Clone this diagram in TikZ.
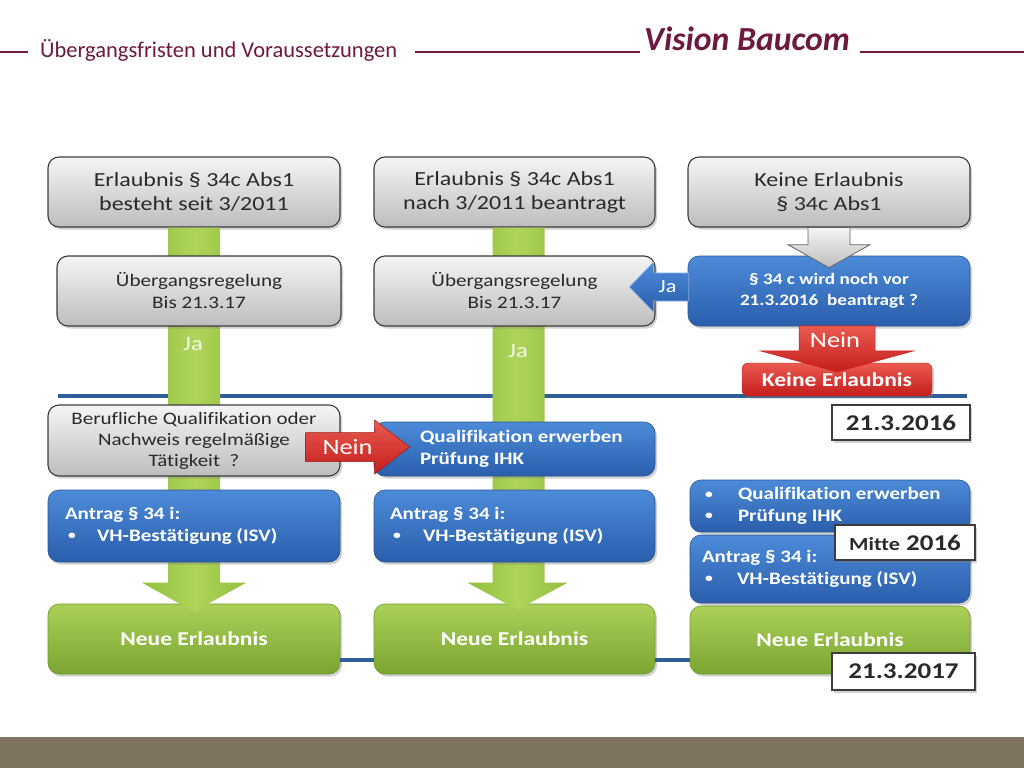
\documentclass[tikz,border=0pt]{standalone}
\usepackage{fontspec}
\setmainfont{Carlito}
\newfontfamily\diag{Carlito}[FakeStretch=1.2,Ligatures=CommonOff]
\newcommand{\smbul}{\raisebox{1.6pt}{\fontsize{13}{13}\selectfont\textbullet}}
\usetikzlibrary{shadows,calc}
\definecolor{maroon}{HTML}{6E1A40}
\definecolor{lineblue}{HTML}{2F5E98}
\definecolor{gtop}{HTML}{F5F5F5}
\definecolor{gbot}{HTML}{BDBDBD}
\definecolor{gborder}{HTML}{3C3C3C}
\definecolor{gtext}{HTML}{2A2A2A}
\definecolor{btop}{HTML}{4C8BD8}
\definecolor{bbot}{HTML}{2A5EAC}
\definecolor{bborder}{HTML}{2A5590}
\definecolor{grtop}{HTML}{AAD058}
\definecolor{grbot}{HTML}{7BA531}
\definecolor{grborder}{HTML}{6F9A2C}
\definecolor{stemg}{HTML}{93BE3E}
\definecolor{stemlight}{HTML}{AED55A}
\definecolor{rtop}{HTML}{EA5A50}
\definecolor{rbot}{HTML}{C41E1C}
\definecolor{barcol}{HTML}{7E735E}
\definecolor{jatext}{HTML}{F2F7E6}
\begin{document}
\begin{tikzpicture}[x=1pt,y=-1pt,
  shadowed/.style={drop shadow={shadow xshift=2pt,shadow yshift=-2.5pt,opacity=0.35}},
  basebox/.style={rounded corners=11pt, inner xsep=8pt, inner ysep=0pt, align=center, shadowed},
  graybox/.style={basebox, top color=gtop, bottom color=gbot, draw=gborder, line width=1.1pt, text=gtext},
  bluebox/.style={basebox, top color=btop, bottom color=bbot, draw=bborder, line width=0.6pt, text=white, font=\diag\bfseries\fontsize{17.5}{21.5}\selectfont},
  greenbox/.style={basebox, top color=grtop, bottom color=grbot, draw=grborder, line width=0.6pt, text=white, font=\diag\bfseries\fontsize{19.6}{23}\selectfont},
  redbox/.style={basebox, rounded corners=6pt, top color=rtop, bottom color=rbot, draw=rbot, text=white, font=\diag\bfseries\fontsize{19.6}{23}\selectfont},
  datebox/.style={fill=white, draw=gborder, line width=1.1pt, inner sep=0pt, shadowed, text=gtext, font=\diag\bfseries\fontsize{22.5}{26}\selectfont},
  hdrline/.style={draw=maroon, line width=1.8pt},
  timeline/.style={draw=lineblue, line width=4pt},
  arrowtext/.style={text=white, inner sep=0pt, font=\diag\fontsize{22}{26}\selectfont},
  jalabel/.style={text=jatext, inner sep=0pt, font=\diag\fontsize{20.5}{24}\selectfont},
]
\path[use as bounding box] (0,0) rectangle (1024,768);
\fill[white] (0,0) rectangle (1024,768);

% header
\coordinate (h0) at (0,52); \coordinate (h1) at (28,52);
\coordinate (h2) at (415,52); \coordinate (h3) at (640,52);
\coordinate (h4) at (860,52); \coordinate (h5) at (1024,52);
\draw[hdrline] (h0) -- (h1);
\draw[hdrline] (h2) -- (h3);
\draw[hdrline] (h4) -- (h5);
\node[anchor=base west, inner sep=0pt, text=maroon, font=\fontsize{22.5}{27}\selectfont] (title) at (40,57) {Übergangsfristen und Voraussetzungen};
\node[anchor=base west, inner sep=0pt, text=maroon, font=\bfseries\itshape\fontsize{33.7}{40}\selectfont] (brand) at (644,50) {Vision Baucom};

% footer bar
\fill[barcol] (0,737) rectangle (1024,768);

% upper time line
\coordinate (tl0) at (58,396); \coordinate (tl1) at (967,396);
\draw[timeline] (tl0) -- (tl1);

% top boxes
\node[graybox, minimum width=292pt, minimum height=70pt, font=\diag\fontsize{20}{24}\selectfont] (g1) at (194,192) {Erlaubnis § 34c Abs1\\besteht seit 3/2011};
\node[graybox, minimum width=281pt, minimum height=70pt, font=\diag\fontsize{20}{24}\selectfont] (g2) at (514.5,192) {Erlaubnis § 34c Abs1\\nach 3/2011 beantragt};
\node[graybox, minimum width=282pt, minimum height=70pt, font=\diag\fontsize{20}{24}\selectfont] (g3) at (829,192) {Keine Erlaubnis\\§ 34c Abs1};

% result boxes
\node[greenbox, minimum width=292pt, minimum height=70pt] (n1) at (194,639) {Neue Erlaubnis};
\node[greenbox, minimum width=281pt, minimum height=70pt] (n2) at (514.5,639) {Neue Erlaubnis};
\node[greenbox, minimum width=280pt, minimum height=68pt] (n3) at (830,640) {Neue Erlaubnis};

% lower time line
\draw[timeline] ($(n1.east)+(0,21)$) -- ($(n2.west)+(0,21)$);
\draw[timeline] ($(n2.east)+(0,21)$) -- ($(n3.west)+(0,20)$);

% green stems with arrow heads
\shade[left color=stemg, right color=stemg, middle color=stemlight]
  ($(g1.south)+(-26,0)$) -- ($(g1.south)+(26,0)$) -- ($(n1.north)+(26,-21)$) -- ($(n1.north)+(52,-21)$)
  -- ($(n1.north)+(0,8)$) -- ($(n1.north)+(-52,-21)$) -- ($(n1.north)+(-26,-21)$) -- cycle;
\shade[left color=stemg, right color=stemg, middle color=stemlight]
  ($(g2.south)+(-22,0)$) -- ($(g2.south)+(30,0)$) -- ($(n2.north)+(30,-21)$) -- ($(n2.north)+(53,-21)$)
  -- ($(n2.north)+(3,6)$) -- ($(n2.north)+(-47,-21)$) -- ($(n2.north)+(-22,-21)$) -- cycle;

% column 1 / 2 boxes
\node[graybox, minimum width=284pt, minimum height=70pt, font=\diag\fontsize{17.6}{22}\selectfont] (u1) at (199,291) {Übergangsregelung\\Bis 21.3.17};
\node[graybox, minimum width=281pt, minimum height=70pt, font=\diag\fontsize{17.6}{22}\selectfont] (u2) at (514.5,291) {Übergangsregelung\\Bis 21.3.17};
\node[jalabel] (ja1) at ($(g1.south)+(-1,116)$) {Ja};
\node[jalabel] (ja2) at ($(g2.south)+(3.5,123)$) {Ja};

\node[graybox, minimum width=292pt, minimum height=71pt, font=\diag\fontsize{17.5}{21}\selectfont] (qb1) at (194,440.5) {Berufliche Qualifikation oder\\Nachweis regelmäßige\\Tätigkeit\ \ ?};
\node[bluebox, minimum width=281pt, minimum height=54pt, text width=265pt, align=flush left] (q2) at (514.5,449) {\hspace*{38pt}Qualifikation erwerben\\\hspace*{38pt}Prüfung IHK};
\node[bluebox, minimum width=292pt, minimum height=72pt, text width=276pt, align=flush left] (a1) at (194,526) {\hspace*{9pt}Antrag § 34 i:\\\hspace*{12pt}\makebox[29pt][l]{\smbul}VH-Bestätigung (ISV)};
\node[bluebox, minimum width=281pt, minimum height=72pt, text width=265pt, align=flush left] (a2) at (514.5,526) {\hspace*{8pt}Antrag § 34 i:\\\hspace*{11pt}\makebox[30pt][l]{\smbul}VH-Bestätigung (ISV)};

% Nein arrow col1 -> col2
\shadedraw[top color=rtop, bottom color=rbot, draw=rbot!80!black, line width=0.5pt]
  ($(qb1.east)+(-35,-8)$) -- ($(q2.west)+(1,-16.5)$) -- ($(q2.west)+(1,-29)$) -- ($(q2.west)+(36,-2)$)
  -- ($(q2.west)+(1,25)$) -- ($(q2.west)+(1,12.5)$) -- ($(qb1.east)+(-35,21)$) -- cycle;
\node[arrowtext] (nein1) at ($(qb1.east)+(7,6.5)$) {Nein};

% column 3
\node[bluebox, minimum width=282pt, minimum height=70pt, font=\diag\bfseries\fontsize{16}{21}\selectfont] (q3) at (829,291) {§ 34 c wird noch vor\\21.3.2016\ \ beantragt ?};
\shadedraw[top color=gtop, bottom color=gbot, draw=gborder!80, line width=0.8pt]
  ($(g3.south)+(-21,0)$) -- ($(g3.south)+(21,0)$) -- ($(q3.north)+(21,-11)$) -- ($(q3.north)+(41,-11)$)
  -- ($(q3.north)+(0,12)$) -- ($(q3.north)+(-41,-11)$) -- ($(q3.north)+(-21,-11)$) -- cycle;
\node[redbox, minimum width=190pt, minimum height=33pt] (k3) at (837,379.5) {Keine Erlaubnis};
\shadedraw[top color=rtop, bottom color=rbot, draw=rbot, line width=0.5pt]
  ($(k3.north)+(-38,-37)$) -- ($(k3.north)+(38,-37)$) -- ($(k3.north)+(38,-12)$) -- ($(k3.north)+(77,-12)$)
  -- ($(k3.north)+(0,9)$) -- ($(k3.north)+(-77,-12)$) -- ($(k3.north)+(-38,-12)$) -- cycle;
\node[arrowtext] (nein3) at ($(k3.north)+(-2,-23)$) {Nein};

% Ja arrow col3 -> col2
\shadedraw[top color=btop, bottom color=bbot, draw=btop!70!white, line width=0.6pt]
  ($(q3.west)+(1,-18)$) -- ($(u2.east)+(-2,-18)$) -- ($(u2.east)+(-2,-29)$) -- ($(u2.east)+(-26,-4)$)
  -- ($(u2.east)+(-2,21)$) -- ($(u2.east)+(-2,10)$) -- ($(q3.west)+(1,10)$) -- cycle;
\node[arrowtext, font=\diag\fontsize{18.5}{22}\selectfont] (ja3) at ($(u2.east)+(12,-4)$) {Ja};

\node[datebox, minimum width=138pt, minimum height=35pt] (d1) at (901,422.5) {21.3.2016};

\node[bluebox, minimum width=280pt, minimum height=52pt, text width=264pt, align=flush left] (qual3) at (830,506) {\hspace*{7pt}\makebox[33pt][l]{\smbul}Qualifikation erwerben\\\hspace*{7pt}\makebox[33pt][l]{\smbul}Prüfung IHK};
\node[bluebox, minimum width=280pt, minimum height=68pt, text width=264pt, align=flush left] (a3) at (830,569) {\hspace*{4pt}Antrag § 34 i:\\\hspace*{7pt}\makebox[32pt][l]{\smbul}VH-Bestätigung (ISV)};

\node[datebox, minimum width=140pt, minimum height=35pt] (d2) at (905,542.5) {{\fontsize{18.5}{22}\selectfont Mitte} 2016};
\node[datebox, minimum width=143pt, minimum height=37pt] (d3) at (903.5,671.5) {21.3.2017};
\end{tikzpicture}
\end{document}
